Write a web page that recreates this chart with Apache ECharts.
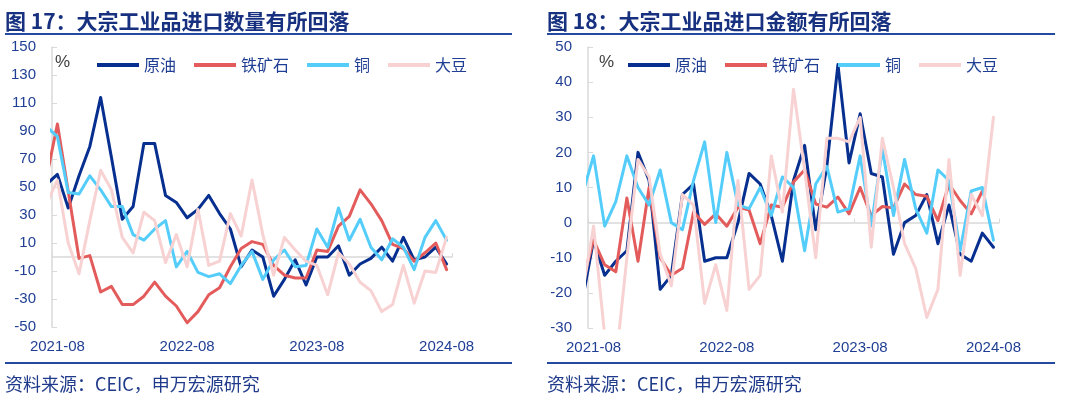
<!DOCTYPE html>
<html>
<head>
<meta charset="utf-8">
<title>大宗工业品进口</title>
<script src="https://cdn.jsdelivr.net/npm/echarts@6/dist/echarts.min.js"></script>
<style>
  html, body { margin: 0; padding: 0; background: #fff; }
  #chart { width: 1080px; height: 398px; }
</style>
</head>
<body>
<div id="chart"></div>
<script>
// 月份从 2021-07 开始，第一段在纵轴左边被裁掉
const months = [];
for (let i = 0; i < 38; i++) {
  const d = new Date(2021, 6 + i, 1);
  months.push(d.getFullYear() + '-' + String(d.getMonth() + 1).padStart(2, '0'));
}
const axisMonths = months.slice(1);
const names = ['原油', '铁矿石', '铜', '大豆'];
const colors = ['#062F8F', '#E35B5B', '#55CDFA', '#F8D2D2'];

// 图17 进口数量同比 %
const qtyOil = [52, 59, 35, 58, 79, 114, 71, 27, 36, 81, 81, 44, 39, 28, 34, 44, 31, 20, -7, 5, 0, -28, -16, -2, -20, 0, 0, 8, -13, -5, -1, 7, -3, 14, -2, 0, 7, -5];
const qtyIron = [57, 95, 47, -1, 1, -25, -21, -34, -34, -28, -18, -28, -35, -47, -39, -27, -22, -7, 6, 11, 9, -6, -13, -15, -15, 5, 4, 22, 29, 48, 38, 26, 9, 6, -3, 3, 10, -9];
const qtyCopper = [93, 86, 46, 45, 58, 48, 36, 36, 16, 12, 20, 26, -7, 4, -11, -14, -12, -19, -6, 4, -16, -2, 5, -7, -6, 20, 7, 35, 12, 27, 7, -2, 13, 7, -9, 14, 26, 12];
const qtySoy = [38, 55, 10, -12, 26, 62, 48, 14, 3, 32, 26, -4, 16, -7, 34, -6, -3, 31, 15, 55, 16, -13, 14, 5, -3, -6, -27, 3, -5, -18, -24, -39, -34, -6, -33, -10, -11, 14];

// 图18 进口金额同比 %
const valOil = [-22, -5, -15, -11, -8, 20, 12, -19, -15, 8, 11, -11, -10, -10, 0, 14, 11, 2, -11, 12, 22, -2, 16, 45, 17, 31, 14, 13, -9, 0, 2, 8, -6, 5, -9, -11, -3, -7];
const valIron = [-17, -5, -12, -14, 7, -11, 10, -10, -15, -13, 3, -0.5, 2.5, -1, 4.4, 3.6, -6, 5, 4.4, 11.6, 15, 5.3, 4.4, 7.3, 2.5, 10, 2, 4.6, 4.2, 11, 8, 7.5, 0.6, 11, 6.3, 2.5, 9, null];
const valCopper = [8, 19, -1, 6, 19, 10, 5, 15, 0, -2, 12, 23, 0, 20, 5, 4, 10, 2, 13, 10, -8, 11, 16, 3, 4, 19, -1, 21, 2, 18, 4, -3, 15, 12, -8, 9, 10, -5];
const valSoy = [-20, -1, -32, -40, -10, 18, 13, -9, -18, 8, 5, -23, -12, -25, 12, -19, -15, 19, 3, 38, 15, -10, 24, 24, 23, 30, -7, 24, 10, -6, -13, -27, -19, 18, -15, 8, 2, 30];

const leftTicks = { min: -50, max: 150, interval: 20 };
const rightTicks = { min: -30, max: 50, interval: 10 };

const labelColor = '#203F94';
const axisGray = '#D9D9D9';
const numFont = 'Liberation Sans, Arial, sans-serif';
const cjkFont = 'Noto Sans CJK SC, sans-serif';

const chart = echarts.init(document.getElementById('chart'));

const makeSeries = (values, idx, xIdx, yIdx) => {
  const data = [];
  values.forEach((v, i) => {
    if (v !== null) data.push([i - 1, v]);
  });
  return {
    name: names[idx],
    type: 'line',
    xAxisIndex: xIdx,
    yAxisIndex: yIdx,
    data: data,
    symbol: 'none',
    clip: true,
    color: colors[idx],
    lineStyle: { width: 3, color: colors[idx], join: 'round', cap: 'round' },
    animation: false
  };
};

const catAxis = (grid) => ({
  type: 'category',
  gridIndex: grid,
  data: axisMonths,
  boundaryGap: true,
  position: 'bottom',
  axisLine: { show: false, onZero: false },
  axisTick: { show: false },
  axisLabel: { interval: 11, color: labelColor, fontSize: 15, fontFamily: numFont, margin: 12 },
  splitLine: { show: false }
});

const zeroAxis = (grid) => ({
  type: 'value',
  gridIndex: grid,
  min: -0.5,
  max: 36.5,
  interval: 12,
  position: 'bottom',
  axisLine: { show: true, onZero: true, lineStyle: { color: axisGray, width: 1.5 } },
  axisTick: { show: true, inside: true, length: 4, lineStyle: { color: axisGray } },
  axisLabel: { show: false },
  splitLine: { show: false }
});

const valAxis = (grid, t) => ({
  type: 'value',
  gridIndex: grid,
  min: t.min,
  max: t.max,
  interval: t.interval,
  axisLine: { show: true, onZero: false, lineStyle: { color: axisGray, width: 1.5 } },
  axisTick: { show: true, inside: true, length: 5, lineStyle: { color: axisGray } },
  axisLabel: { color: labelColor, fontSize: 15, fontFamily: numFont, margin: 16 },
  splitLine: { show: false }
});

const legendFor = (left) => ({
  left: left,
  top: 52,
  data: names,
  icon: 'rect',
  itemWidth: 42,
  itemHeight: 4,
  itemGap: 18,
  textStyle: { color: labelColor, fontSize: 16, fontFamily: cjkFont }
});

const textEl = (x, y, text, font, fill) => ({
  type: 'text',
  x: x,
  y: y,
  style: { text: text, font: font, fill: fill, verticalAlign: 'middle' }
});

const lineEl = (x1, x2, y) => ({
  type: 'line',
  shape: { x1: x1, y1: y, x2: x2, y2: y },
  style: { stroke: '#2449A0', lineWidth: 2 }
});

const options = {
  backgroundColor: '#fff',
  animation: false,
  grid: [
    { left: 52, top: 47, width: 400, height: 280 },
    { left: 588, top: 47, width: 411, height: 281 }
  ],
  xAxis: [catAxis(0), zeroAxis(0), catAxis(1), zeroAxis(1)],
  yAxis: [valAxis(0, leftTicks), valAxis(1, rightTicks)],
  legend: [legendFor(92), legendFor(623)],
  graphic: [
    textEl(5, 21, '图 17：大宗工业品进口数量有所回落', 'bold 21px ' + cjkFont, '#17307F'),
    textEl(547, 21, '图 18：大宗工业品进口金额有所回落', 'bold 21px ' + cjkFont, '#17307F'),
    lineEl(5, 512, 34),
    lineEl(547, 1055, 34),
    lineEl(5, 512, 363),
    lineEl(547, 1055, 363),
    textEl(5, 384, '资料来源：CEIC，申万宏源研究', '18px ' + cjkFont, '#1F3A8A'),
    textEl(547, 384, '资料来源：CEIC，申万宏源研究', '18px ' + cjkFont, '#1F3A8A'),
    textEl(55, 62, '%', '17px ' + numFont, '#404040'),
    textEl(599, 62, '%', '17px ' + numFont, '#404040')
  ],
  series: [
    makeSeries(qtyOil, 0, 1, 0),
    makeSeries(qtyIron, 1, 1, 0),
    makeSeries(qtyCopper, 2, 1, 0),
    makeSeries(qtySoy, 3, 1, 0),
    makeSeries(valOil, 0, 3, 1),
    makeSeries(valIron, 1, 3, 1),
    makeSeries(valCopper, 2, 3, 1),
    makeSeries(valSoy, 3, 3, 1)
  ]
};
chart.setOption(options);
</script>
</body>
</html>
